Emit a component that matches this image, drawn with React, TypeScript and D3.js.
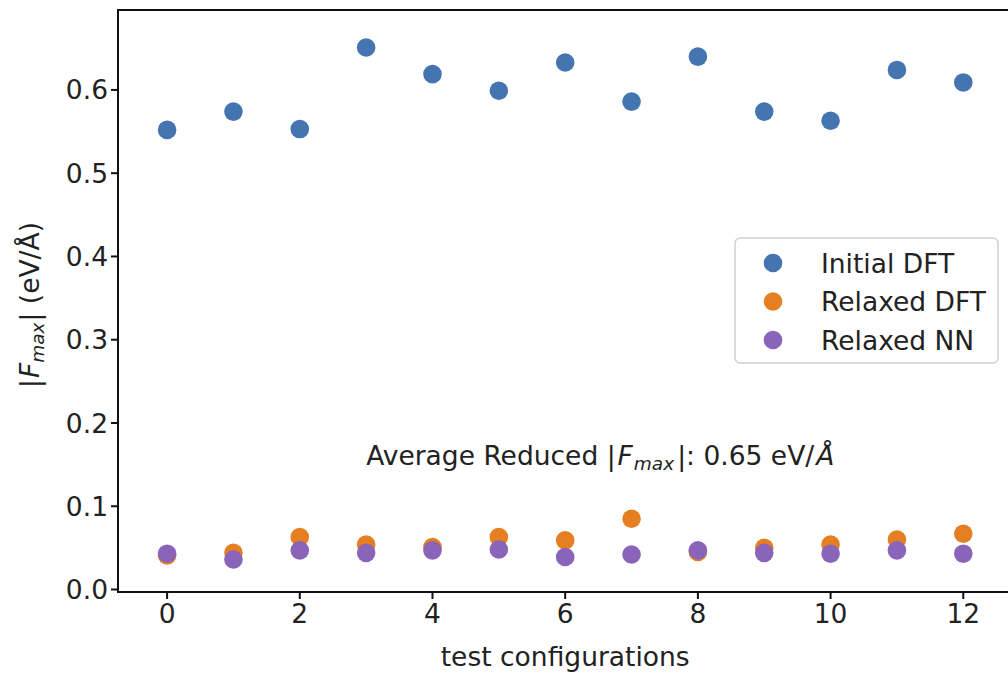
import React from "react";
import * as d3 from "d3";

const configs = [0, 1, 2, 3, 4, 5, 6, 7, 8, 9, 10, 11, 12];
const initialDFT = [0.552, 0.574, 0.553, 0.651, 0.619, 0.599, 0.633, 0.586, 0.640, 0.574, 0.563, 0.624, 0.609];
const relaxedDFT = [0.041, 0.044, 0.063, 0.054, 0.051, 0.063, 0.059, 0.085, 0.045, 0.050, 0.054, 0.060, 0.067];
const relaxedNN = [0.043, 0.036, 0.047, 0.044, 0.047, 0.048, 0.039, 0.042, 0.047, 0.044, 0.043, 0.047, 0.043];
const xTicks = [0, 2, 4, 6, 8, 10, 12];
const yTicks = [0.0, 0.1, 0.2, 0.3, 0.4, 0.5, 0.6];
const seriesNames = ["Initial DFT", "Relaxed DFT", "Relaxed NN"];
const seriesColors = ["#4575b1", "#e67e22", "#8a64b9"];

const W = 1008;
const H = 675;
const FONT = "DejaVu Sans, sans-serif";
const FS = 26.5;
const SUB = 18.5;

export default function App() {
  const x = d3.scaleLinear().domain([-0.74, 12.9]).range([118, 1023]);
  const y = d3.scaleLinear().domain([-0.003, 0.696]).range([592, 10]);
  const series = [initialDFT, relaxedDFT, relaxedNN];
  const r = 9.3;
  const left = x(-0.74);
  const bottom = y(-0.003);
  const top = y(0.696);

  return (
    <svg
      width={W}
      height={H}
      style={{ position: "absolute", left: 0, top: 0, background: "#fff" }}
      fontFamily={FONT}
    >
      <rect x={0} y={0} width={W} height={H} fill="#fff" />
      {series.map((vals, si) => (
        <g key={si}>
          {vals.map((v, i) => (
            <circle key={i} cx={x(configs[i])} cy={y(v)} r={r} fill={seriesColors[si]} />
          ))}
        </g>
      ))}
      <line x1={left} x2={left} y1={top} y2={bottom} stroke="#111" strokeWidth={2} />
      <line x1={left - 1} x2={W} y1={bottom} y2={bottom} stroke="#111" strokeWidth={2} />
      <line x1={left - 1} x2={W} y1={top} y2={top} stroke="#111" strokeWidth={2} />
      {yTicks.map((t) => (
        <g key={t}>
          <line x1={left - 7} x2={left} y1={y(t)} y2={y(t)} stroke="#111" strokeWidth={2} />
          <text x={left - 10} y={y(t)} dy="0.36em" textAnchor="end" fontSize={FS} fill="#222">
            {t.toFixed(1)}
          </text>
        </g>
      ))}
      {xTicks.map((t) => (
        <g key={t}>
          <line x1={x(t)} x2={x(t)} y1={bottom} y2={bottom + 7} stroke="#111" strokeWidth={2} />
          <text x={x(t)} y={bottom + 11} dy="0.76em" textAnchor="middle" fontSize={FS} fill="#222">
            {t}
          </text>
        </g>
      ))}
      <text x={x(6)} y={666} textAnchor="middle" fontSize={FS} fill="#222">
        test configurations
      </text>
      <text
        transform={`translate(39, ${(top + bottom) / 2 + 4}) rotate(-90)`}
        textAnchor="middle"
        fontSize={FS}
        fill="#222"
      >
        |<tspan fontStyle="italic" dx={1}>F</tspan>
        <tspan fontStyle="italic" fontSize={SUB} dy={5}>max</tspan>
        <tspan dy={-5} dx={1}>| (eV/Å)</tspan>
      </text>
      <text x={x(3)} y={y(0.15)} fontSize={FS} fill="#222">
        Average Reduced |<tspan fontStyle="italic" dx={2}>F</tspan>
        <tspan fontStyle="italic" fontSize={SUB} dy={5} dx={1}>max</tspan>
        <tspan dy={-5} dx={3}>|: 0.65 eV/</tspan>
        <tspan fontStyle="italic" dx={2}>Å</tspan>
      </text>
      <g>
        <rect x={735} y={238} width={263} height={125} rx={5} fill="#fff" fillOpacity={0.8} stroke="#d0d0d0" strokeWidth={1.5} />
        {seriesNames.map((name, i) => (
          <g key={name}>
            <circle cx={773} cy={263 + i * 38.5} r={r} fill={seriesColors[i]} />
            <text x={821} y={263 + i * 38.5} dy="0.36em" fontSize={FS} fill="#222">
              {name}
            </text>
          </g>
        ))}
      </g>
    </svg>
  );
}
